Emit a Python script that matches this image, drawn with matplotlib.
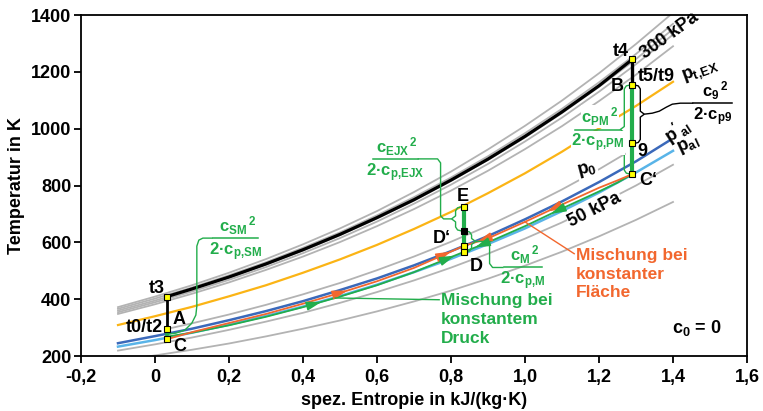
import numpy as np
import matplotlib

matplotlib.use("Agg")
import matplotlib.pyplot as plt

# ---- isobars (entropy grid, temperatures) ----
S_GRID = [-0.1, 0.0, 0.1, 0.2, 0.3, 0.4, 0.5, 0.6, 0.7, 0.8, 0.9, 1.0, 1.1, 1.2, 1.3, 1.4]
ISO_300_1 = [348, 382, 419, 459, 503, 550, 601, 657, 717, 782, 852, 928, 1009, 1097, 1190, 1290]
ISO_300_2 = [354, 389, 427, 468, 513, 562, 615, 673, 736, 803, 876, 955, 1039, 1130, 1227, 1331]
ISO_300_3 = [360, 395, 434, 476, 522, 571, 625, 684, 747, 816, 890, 969, 1055, 1147, 1245, 1350]
ISO_300_4 = [366, 402, 441, 484, 530, 581, 635, 695, 759, 828, 903, 984, 1070, 1163, 1263, 1369]
ISO_300_5 = [372, 409, 449, 493, 541, 593, 649, 710, 777, 849, 927, 1010, 1099, 1195, 1298, 1408]
ISO_PTEX = [309, 340, 373, 410, 449, 493, 540, 591, 647, 707, 773, 843, 919, 1001, 1080, 1165]
ISO_PAL = [233, 256, 282, 310, 341, 374, 411, 451, 495, 542, 594, 649, 710, 775, 846, 922]
ISO_50 = [219, 241, 265, 292, 321, 352, 387, 425, 466, 511, 560, 613, 670, 733, 800, 873]
ISO_25 = [183, 202, 222, 244, 269, 296, 325, 357, 392, 430, 472, 518, 567, 621, 679, 742]

PAL2_S = [-0.1, 0.0, 0.1, 0.2, 0.3, 0.4, 0.5, 0.6, 0.7, 0.8, 0.9, 1.0, 1.1, 1.2, 1.3, 1.39]
PAL2_T = [245, 270, 296, 326, 358, 393, 432, 473, 519, 569, 622, 681, 744, 812, 885, 958]

P0_S = [0.032, 0.1, 0.2, 0.3, 0.4, 0.5, 0.6, 0.7, 0.8, 0.9, 1.0, 1.1, 1.2, 1.27]
P0_T = [295, 315, 346, 380, 417, 457, 502, 550, 602, 658, 720, 786, 857, 911]

# combustion t3 -> t4
HEAT_S = [0.032, 0.1, 0.2, 0.3, 0.4, 0.5, 0.6, 0.7, 0.8, 0.9, 1.0, 1.1, 1.2, 1.29]
HEAT_T = [409, 436, 478, 524, 574, 628, 687, 750, 819, 893, 973, 1059, 1151, 1244]

# mixing paths (constant area = red, constant pressure = green)
MIX_LO_S = [0.032, 0.1, 0.2, 0.3, 0.4, 0.5, 0.6, 0.7, 0.834]
MIX_HI_S = [0.834, 0.9, 1.0, 1.1, 1.2, 1.25, 1.29]
AREA_LO_T = [259, 284, 316, 348, 384, 422, 463, 510, 587]
AREA_HI_T = [587, 614, 672, 733, 792, 818, 840]
PRES_LO_T = [268, 282, 308, 338, 372, 409, 449, 495, 566]
PRES_HI_T = [566, 600, 657, 719, 779, 810, 840]

# state points
PT_NAMES = ["t3", "t0/t2", "C", "t4", "B", "9", "C'", "E", "D'", "D_A", "D_p"]
PT_S = [0.032, 0.032, 0.032, 1.29, 1.29, 1.29, 1.29, 0.834, 0.834, 0.834, 0.834]
PT_T = [409, 295, 259, 1244, 1154, 948, 840, 725, 640, 587, 566]
P = {n: (s, t) for n, s, t in zip(PT_NAMES, PT_S, PT_T)}

XTICKS = [-0.2, 0.0, 0.2, 0.4, 0.6, 0.8, 1.0, 1.2, 1.4, 1.6]
XTICK_LABELS = ["-0,2", "0", "0,2", "0,4", "0,6", "0,8", "1,0", "1,2", "1,4", "1,6"]
YTICKS = [200, 400, 600, 800, 1000, 1200, 1400]

GRAY = "#b3b3b3"
ORANGE = "#fbb415"
DBLUE = "#3b69ba"
LBLUE = "#59b4e8"
RED = "#f2672e"
GREEN = "#22ad4b"
YELLOW = "#ffff00"

plt.rcParams.update({
    "font.family": ["Liberation Sans", "DejaVu Sans"],
    "font.weight": "bold",
    "mathtext.fontset": "custom",
    "mathtext.rm": "Liberation Sans:bold",
    "mathtext.it": "Liberation Sans:bold",
    "mathtext.bf": "Liberation Sans:bold",
    "mathtext.sf": "Liberation Sans:bold",
    "axes.linewidth": 1.3,
})

fig = plt.figure(figsize=(7.63, 4.11), dpi=100)
ax = fig.add_axes([81 / 763, 1 - 356 / 411, 666 / 763, 341 / 411])
ax.set_xlim(-0.2, 1.6)
ax.set_ylim(200, 1400)
S_PX = 1.8 / 666    # entropy per pixel
T_PX = 1200 / 341   # kelvin per pixel

ax.set_xticks(XTICKS, XTICK_LABELS)
ax.set_yticks(YTICKS)
ax.tick_params(direction="out", length=5, width=1.3, labelsize=13)
ax.tick_params(axis="x", pad=4)
ax.tick_params(axis="y", pad=2)
ax.set_xlabel("spez. Entropie in kJ/(kg·K)", fontsize=13, fontweight="bold", labelpad=5)
ax.set_ylabel("Temperatur in K", fontsize=13, fontweight="bold", labelpad=4)

# isobars
for iso in (ISO_300_1, ISO_300_2, ISO_300_3, ISO_300_4, ISO_300_5, ISO_50, ISO_25):
    ax.plot(S_GRID, iso, color=GRAY, lw=1.3, zorder=1)
ax.plot(P0_S, P0_T, color=GRAY, lw=1.3, zorder=1)
ax.plot(S_GRID, ISO_PTEX, color=ORANGE, lw=1.6, zorder=2)
ax.plot(S_GRID, ISO_PAL, color=LBLUE, lw=1.8, zorder=2)
ax.plot(PAL2_S, PAL2_T, color=DBLUE, lw=1.8, zorder=2)
ax.plot(HEAT_S, HEAT_T, color="black", lw=2.3, zorder=4)

# mixing processes
ax.plot(MIX_LO_S, PRES_LO_T, color=GREEN, lw=1.3, zorder=3)
ax.plot(MIX_HI_S, PRES_HI_T, color=GREEN, lw=1.3, zorder=3)
ax.plot(MIX_LO_S, AREA_LO_T, color=RED, lw=1.3, zorder=3.2)
ax.plot(MIX_HI_S, AREA_HI_T, color=RED, lw=1.3, zorder=3.2)


def arrow_on(xs, ys, s_at, back, color):
    t_at = np.interp(s_at, xs, ys)
    t_bk = np.interp(s_at - back, xs, ys)
    ax.annotate("", xy=(s_at, t_at), xytext=(s_at - back, t_bk),
                arrowprops=dict(arrowstyle="-|>,head_length=1.0,head_width=0.3",
                                color=color, lw=1.1, shrinkA=0, shrinkB=0,
                                mutation_scale=9), zorder=5)


arrow_on(MIX_LO_S, AREA_LO_T, 0.52, 0.04, RED)
arrow_on(MIX_LO_S, AREA_LO_T, 0.80, 0.04, RED)
arrow_on(MIX_HI_S, AREA_HI_T, 0.87, -0.04, RED)
arrow_on(MIX_HI_S, AREA_HI_T, 1.06, -0.04, RED)
arrow_on(MIX_LO_S, PRES_LO_T, 0.45, 0.04, GREEN)
arrow_on(MIX_LO_S, PRES_LO_T, 0.81, 0.04, GREEN)
arrow_on(MIX_HI_S, PRES_HI_T, 0.865, -0.04, GREEN)
arrow_on(MIX_HI_S, PRES_HI_T, 1.07, -0.04, GREEN)

# vertical state changes
ax.plot([P["t3"][0]] * 2, [P["t3"][1], P["t0/t2"][1]], color="black", lw=2, zorder=6)
ax.plot([P["C"][0]] * 2, [P["t0/t2"][1], P["C"][1]], color=GREEN, lw=2.6, zorder=6)
ax.plot([P["t4"][0]] * 2, [P["t4"][1], P["B"][1]], color="black", lw=2.4, zorder=6)
ax.plot([P["B"][0]] * 2, [P["B"][1], P["C'"][1]], color=GREEN, lw=3, zorder=6)
ax.plot([P["E"][0]] * 2, [P["E"][1], P["D_p"][1]], color=GREEN, lw=3, zorder=6)

for n in PT_NAMES:
    face = "black" if n == "D'" else YELLOW
    ax.plot(*P[n], marker="s", ms=4, mfc=face, mec="black", mew=0.8, zorder=7)


# braces and fractions
def poly(anchor, pts, color, lw=1.0):
    xs = [anchor[0] + dx * S_PX for dx, dy in pts]
    ys = [anchor[1] - dy * T_PX for dx, dy in pts]
    ax.plot(xs, ys, color=color, lw=lw, zorder=5, solid_capstyle="butt")
    return xs[-1], ys[-1]


def brace(top, bottom, side, color):
    h = (top[1] - bottom[1]) / T_PX
    m = h / 2
    pts = [(2, 0), (6, 1), (8, 4), (8, m - 3), (12, m), (8, m + 3), (8, h - 4), (6, h - 1), (2, h)]
    pts = [(side * dx, dy) for dx, dy in pts]
    poly(top, pts, color)
    return top[0] + side * 12 * S_PX, top[1] - m * T_PX


def fraction(left, width_px, num, den, color, fs=12, bg=False):
    s0, t0 = left
    s1 = s0 + width_px * S_PX
    ax.plot([s0, s1], [t0, t0], color=color, lw=1.1, zorder=8)
    box = dict(facecolor="white", edgecolor="none", pad=0.3) if bg else None
    sc = (s0 + s1) / 2
    ax.annotate(num, (sc, t0), xytext=(1.5, 1), textcoords="offset points", ha="center",
                va="bottom", color=color, fontsize=fs, zorder=8, bbox=box)
    ax.annotate(den, (sc, t0), xytext=(0, -1.5), textcoords="offset points", ha="center",
                va="top", color=color, fontsize=fs, zorder=8, bbox=box)


# c_SM
mid = (P["C"][0], (P["t0/t2"][1] + P["C"][1]) / 2)
end = poly(mid, [(1, 0), (9, -1), (18, -4), (25, -11), (29, -19), (30, -28), (30, -88),
                 (32, -94), (36, -96), (46, -96)], GREEN)
fraction(end, 45, r"$c_{SM}{}^{\,2}$", r"2·$c_{p{,}SM}$", GREEN)

# c_EJX
tip = brace(P["E"], P["D'"], -1, GREEN)
end = poly(tip, [(0, 0), (-8, 0), (-11, -3), (-11, -56), (-14, -60), (-34, -60)], GREEN)
fraction((end[0] - 45 * S_PX, end[1]), 45, r"$c_{EJX}{}^{\,2}$", r"2·$c_{p{,}EJX}$", GREEN)

# c_M
tip = brace(P["D'"], P["D_p"], 1, GREEN)
end = poly(tip, [(0, 0), (11, 0), (14, 3), (14, 22), (17, 26), (28, 26)], GREEN)
fraction(end, 38, r"$c_{M}{}^{\,2}$", r"2·$c_{p{,}M}$", GREEN)

# c_PM
tip = brace(P["B"], P["C'"], -1, GREEN)
fraction((tip[0] - 45 * S_PX, tip[1]), 45, r"$c_{PM}{}^{\,2}$", r"2·$c_{p{,}PM}$", GREEN, bg=True)

# c_9
tip = brace(P["B"], P["9"], 1, "black")
end = poly(tip, [(0, 0), (8, -1), (15, -3), (22, -7), (28, -10), (36, -11), (49, -11)], "black")
fraction(end, 39, r"$c_{9}{}^{\,2}$", r"2·$c_{p9}$", "black", bg=True)

# labels
LBL = dict(fontsize=13, ha="center", va="center", zorder=9)
WHITE = dict(facecolor="white", edgecolor="none", pad=0.5)
ax.text(0.005, 436, "t3", **LBL)
ax.text(0.022, 299, "t0/t2", fontsize=13, ha="right", va="center", zorder=9)
ax.text(0.066, 330, "A", **LBL)
ax.text(0.066, 232, "C", **LBL)
ax.text(1.259, 1272, "t4", **LBL)
ax.text(1.356, 1182, "t5/t9", **LBL)
ax.text(1.248, 1147, "B", **LBL)
ax.text(1.316, 918, "9", **LBL)
ax.text(1.334, 819, "C‘", **LBL)
ax.text(0.832, 762, "E", **LBL)
ax.text(0.776, 612, "D‘", **LBL)
ax.text(0.868, 515, "D", **LBL)
ax.text(1.392, 1326, "300 kPa", rotation=36, **LBL)
ax.text(1.473, 1199, r"$p_{t{,}EX}$", rotation=20, **LBL)
ax.text(1.413, 990, r"$p'_{al}$", rotation=33, **LBL)
ax.text(1.442, 943, r"$p_{al}$", rotation=25, **LBL)
ax.text(1.168, 855, r"$p_0$", rotation=15, bbox=WHITE, **LBL)
ax.text(1.189, 714, "50 kPa", rotation=27, bbox=WHITE, **LBL)
ax.text(1.465, 299, r"$c_0$ = 0", **LBL)

# process captions with leaders
s_g = 0.487
ax.plot([0.768, s_g], [398, np.interp(s_g, MIX_LO_S, PRES_LO_T)], color=GREEN, lw=1, zorder=5)
ax.text(0.772, 420, "Mischung bei\nkonstantem\nDruck", color=GREEN, fontsize=12.5,
        ha="left", va="top", linespacing=1.3, zorder=9)
s_r = 1.0
ax.plot([s_r, 1.133], [np.interp(s_r, MIX_HI_S, AREA_HI_T), 560], color=RED, lw=1, zorder=5)
ax.text(1.138, 580, "Mischung bei\nkonstanter\nFläche", color=RED, fontsize=12.5,
        ha="left", va="top", linespacing=1.3, zorder=9)

fig.savefig("out.png", dpi=100)
